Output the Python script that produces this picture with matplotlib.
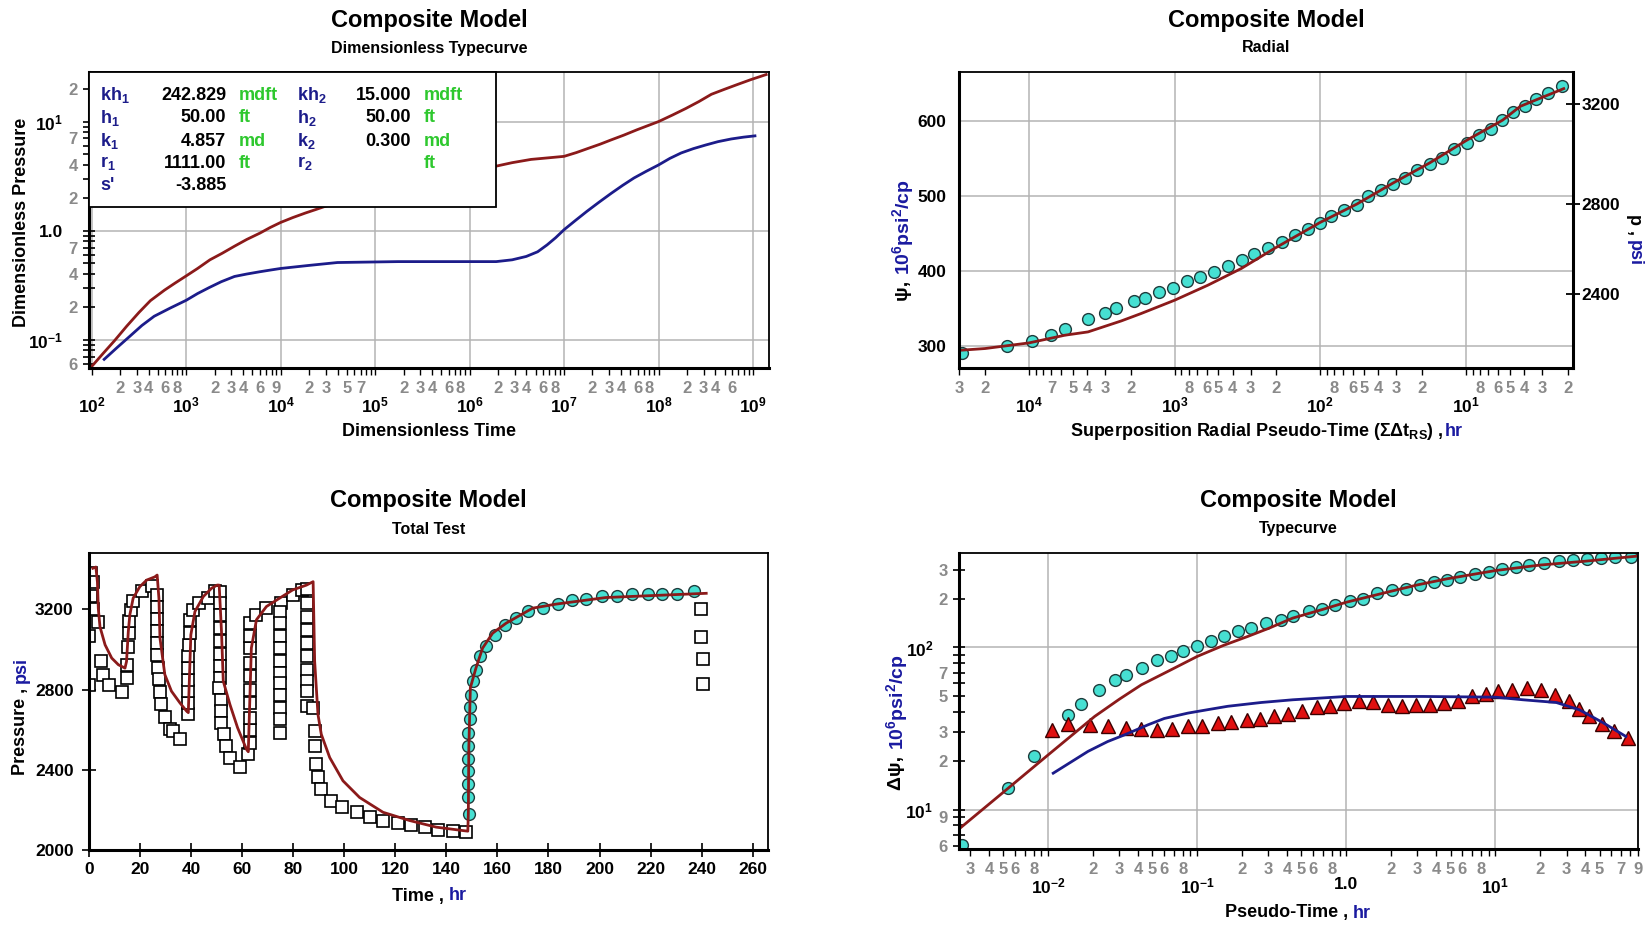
import numpy as np
import matplotlib
matplotlib.use("Agg")
import matplotlib.pyplot as plt
from matplotlib import font_manager
from matplotlib.ticker import FixedLocator, FixedFormatter
from matplotlib.patches import Rectangle

# ---------------- data ----------------
# panel 1: dimensionless typecurve
P1_RED_TD = [100, 132, 174, 234, 316, 417, 589, 759, 1000, 1318, 1780, 2399, 3240, 4365, 6030,
             7762, 1e4, 1.349e4, 1.82e4, 2.344e4, 2.95e4, 1e5, 3.16e5, 1e6, 1.9e6, 2.82e6, 4.47e6,
             6.76e6, 1e7, 1.35e7, 1.82e7, 2.4e7, 3.16e7, 4.27e7, 5.89e7, 7.76e7, 1e8, 1.41e8,
             1.95e8, 2.69e8, 3.63e8, 5.01e8, 6.76e8, 9.55e8, 1.38e9]
P1_RED_PD = [0.057, 0.075, 0.098, 0.133, 0.178, 0.228, 0.285, 0.33, 0.385, 0.45, 0.54, 0.62, 0.72,
             0.83, 0.95, 1.07, 1.19, 1.32, 1.45, 1.56, 1.67, 2.3, 2.9, 3.5, 3.9, 4.2, 4.5,
             4.65, 4.8, 5.2, 5.7, 6.2, 6.8, 7.5, 8.4, 9.2, 10, 11.5,
             13.2, 15.3, 17.8, 19.8, 21.8, 24.3, 27]
P1_BLUE_TD = [135, 186, 251, 339, 457, 676, 1000, 1318, 1740, 2344, 3240, 4365, 6030, 7762, 1e4,
              1.995e4, 3.98e4, 1.74e5, 1.91e6, 2.82e6, 3.98e6, 5.25e6, 6.61e6, 8.13e6, 1e7,
              1.32e7, 1.74e7, 2.34e7, 3.16e7, 4.17e7, 5.5e7, 7.41e7, 1e8, 1.32e8, 1.74e8, 2.34e8,
              3.16e8, 4.27e8, 5.89e8, 7.94e8, 1.05e9]
P1_BLUE_PD = [0.066, 0.085, 0.107, 0.135, 0.164, 0.195, 0.23, 0.265, 0.30, 0.34, 0.38, 0.40,
              0.42, 0.435, 0.45, 0.48, 0.51, 0.52, 0.52, 0.54, 0.58, 0.64, 0.74, 0.86, 1.02,
              1.24, 1.5, 1.82, 2.2, 2.6, 3.04, 3.5, 4.0, 4.6, 5.16, 5.65,
              6.1, 6.55, 6.93, 7.2, 7.4]
LEG_LABELS1 = ["kh$_1$", "h$_1$", "k$_1$", "r$_1$", "s'"]
LEG_VALUES1 = ["242.829", "50.00", "4.857", "1111.00", "-3.885"]
LEG_UNITS1 = ["mdft", "ft", "md", "ft", ""]
LEG_LABELS2 = ["kh$_2$", "h$_2$", "k$_2$", "r$_2$", ""]
LEG_VALUES2 = ["15.000", "50.00", "0.300", "", ""]
LEG_UNITS2 = ["mdft", "ft", "md", "ft", ""]

# panel 2: radial (superposition time, reversed)
P2_DATA_T = [28900, 14200, 9490, 7000, 5660, 3960, 3010, 2510, 1910, 1590, 1270, 1030, 824, 667,
             538, 432, 346, 286, 230, 183, 148, 121, 100, 84.1, 68.5, 56.1, 46.7, 38.4, 31.8,
             26.2, 21.8, 17.7, 14.5, 12.1, 9.89, 8.15, 6.75, 5.61, 4.74, 3.94, 3.32, 2.74, 2.18]
P2_DATA_PSI = [290.1, 300, 306.2, 313.8, 322.7, 336, 343.6, 350.2, 359.1, 364.1, 371.6, 376.9,
               386.3, 391.6, 398.3, 406.3, 414.8, 421.9, 430.3, 438.3, 447.3, 455.3, 464.2, 472.6,
               480.6, 488.2, 499.7, 507.3, 515.4, 524.3, 534, 543, 551, 562.1, 570.5, 580.8,
               588.8, 600.8, 611.9, 620.4, 629.8, 637.3, 646.2]
P2_MODEL_T = [29500, 20000, 10000, 5660, 3930, 2320, 1700, 1000, 592, 349, 207, 100, 56, 31.6,
              17.7, 9.89, 5.6, 4.23, 2.13]
P2_MODEL_PSI = [293.7, 296, 303.5, 313.8, 318.2, 332.9, 342.7, 360.5, 380.5, 402.8, 429.5, 464.5,
                489, 517.1, 544, 574.1, 601, 619.5, 643.1]
P2_P_LABELS = ["3200", "2800", "2400"]
P2_P_AT_PSI = [623.1, 489.6, 368.5]

# panel 3: total test
P3_SQ_T = [0.65, 1.44, 0.65, 1.44, 3.65, 0.13, 4.56, 5.35, 0.13, 7.96, 12.8,
           14.7, 15.0, 15.4, 15.6, 15.8, 16.3, 17.1, 20.6, 24.5,
           26.7, 26.7, 26.7, 26.7, 26.7, 26.7, 27.0, 27.5, 27.8, 28.4, 29.7, 31.7, 33.0, 35.6,
           38.9, 38.9, 38.9, 38.9, 38.9, 38.9, 39.2, 39.4, 39.7, 40.8, 43.2, 46.7, 49.3,
           51.3, 51.3, 51.3, 51.3, 51.3, 51.3, 51.3, 51.3, 51.0, 51.6, 51.6, 51.8, 52.8, 53.5,
           55.4, 59.1, 62.4,
           63.0, 63.0, 63.0, 63.0, 63.0, 63.0, 63.0, 63.0, 63.0, 63.0, 65.6, 69.5, 75.4, 79.9, 83.6,
           74.8, 74.8, 74.8, 74.8, 74.8, 74.8, 74.8, 74.8, 74.8, 74.8, 74.8,
           85.5, 85.5, 85.5, 85.5, 85.5, 85.5, 85.5, 85.5, 85.5, 85.5,
           87.8, 88.4, 88.4, 89.0, 89.6, 90.9, 94.8, 99.3, 104.8, 110.0, 115.2, 121.1, 126.3,
           131.5, 136.8, 142.6, 147.8,
           239.8, 239.8, 240.4, 240.4]
P3_SQ_P = [3383, 3334, 3268, 3201, 3135, 3069, 2944, 2874, 2821, 2821, 2788,
           2858, 2924, 3012, 3080, 3140, 3195, 3244, 3290, 3318,
           3270, 3210, 3150, 3090, 3030, 2970, 2910, 2855, 2790, 2730, 2665, 2605, 2591, 2555,
           2676, 2734, 2792, 2850, 2907, 2965, 3023, 3081, 3147, 3198, 3231, 3256, 3292,
           3288, 3231, 3173, 3107, 3041, 2975, 2917, 2858, 2808, 2750, 2692, 2635, 2577, 2519,
           2461, 2412, 2478,
           2535, 2597, 2659, 2734, 2800, 2866, 2932, 3007, 3069, 3131, 3173, 3206, 3231, 3272, 3297,
           3189, 3131, 3065, 3007, 2941, 2883, 2833, 2775, 2709, 2651, 2585,
           3300, 3231, 3164, 3098, 3032, 2966, 2900, 2842, 2792, 2717,
           2709, 2593, 2519, 2428, 2362, 2304, 2246, 2213, 2188, 2163, 2147, 2134, 2127,
           2114, 2101, 2094, 2089,
           3201, 3064, 2953, 2828]
P3_CIRC_T = [148.8, 148.6, 148.4, 148.4, 148.4, 148.4, 148.6, 149.1, 149.4, 149.8, 150.4, 151.7,
             153.0, 155.6, 158.9, 162.8, 167.3, 171.9, 177.8, 183.7, 189.3, 194.8, 201.0, 206.8,
             212.8, 218.9, 224.5, 230.2, 237.2]
P3_CIRC_P = [2180, 2262, 2328, 2394, 2452, 2519, 2585, 2651, 2712, 2775, 2842, 2900,
             2966, 3016, 3074, 3123, 3156, 3193, 3209, 3226, 3246, 3251, 3267, 3267,
             3275, 3279, 3279, 3279, 3292]
P3_MODEL_T = [1.5, 2.7, 3.3, 3.65, 4.3, 6.3, 8.9, 11.5, 14.1, 14.7, 15.4, 16.0, 17.3, 19.9, 22.6,
              25.8, 26.7, 27.4, 27.8, 29.7, 32.3, 35.6, 38.2, 38.9, 39.3, 39.9, 41.5, 44.8, 48.0,
              50.2, 51.0, 51.9, 52.6, 55.2, 58.2, 61.7, 62.4, 63.6, 65.6, 69.5, 74.7, 79.8, 85.2,
              87.8, 88.4, 89.7, 91.0, 94.3, 99.5, 106.0, 115.2, 125.6, 136.0, 146.4, 148.4,
              148.6, 148.8, 149.4, 151.6, 154.2, 158.1, 163.4, 173.8, 182.9, 202.5, 241.8]
P3_MODEL_P = [3405, 3411, 3336, 3204, 3113, 3023, 2957, 2924, 2907, 2940, 3090, 3173, 3256, 3313,
              3346, 3362, 3371, 3254, 3057, 2875, 2792, 2734, 2693, 2685, 2842, 3073, 3189, 3264,
              3305, 3321, 3321, 3090, 2842, 2726, 2610, 2502, 2490, 3007, 3148, 3214, 3256, 3297,
              3321, 3338, 2941, 2676, 2577, 2461, 2345, 2262, 2188, 2147, 2114, 2097, 2094,
              2180, 2511, 2809, 2908, 3007, 3081, 3131, 3206, 3226, 3259, 3280]

# panel 4: typecurve (log-log)
P4_DPSI_T = [0.00263, 0.0054, 0.00802, 0.0136, 0.0165, 0.0218, 0.028, 0.0335, 0.0426, 0.0537,
             0.0662, 0.0802, 0.1, 0.123, 0.152, 0.187, 0.23, 0.29, 0.365, 0.437, 0.56, 0.689,
             0.845, 1.05, 1.29, 1.6, 2.02, 2.52, 3.12, 3.87, 4.75, 5.83, 7.28, 9.02, 11.0, 13.7,
             16.9, 21.3, 26.6, 33.0, 41.1, 50.9, 63.5, 80.9]
P4_DPSI = [6.08, 13.6, 21.3, 38.5, 44.8, 54.8, 62.7, 68, 74.7, 84, 89.2, 95.5, 101.4, 108.9,
           116.9, 125.5, 131.6, 141.3, 148.2, 156.8, 166.6, 172.5, 183.4, 194, 199.5, 216.4,
           224.4, 229, 241.1, 251.4, 261.1, 269.9, 283.1, 291.1, 305.2, 312.6, 323.2, 331.3,
           338.8, 346.9, 351.6, 355, 360, 360]
P4_DER_T = [0.01064, 0.0136, 0.019, 0.025, 0.0335, 0.0422, 0.0537, 0.0676, 0.0865, 0.107, 0.137,
            0.169, 0.215, 0.265, 0.326, 0.404, 0.506, 0.631, 0.782, 0.959, 1.21, 1.51, 1.89,
            2.38, 2.92, 3.64, 4.52, 5.62, 7.01, 8.71, 10.4, 12.9, 16.3, 20.3, 25.2, 31.0, 36.6,
            42.7, 51.9, 62.7, 78.0]
P4_DER = [30.8, 33.9, 33.4, 32.6, 31.9, 31.6, 30.8, 31.6, 32.6, 33.0, 34.2, 34.7, 35.5, 36.4,
          37.6, 39.0, 40.4, 42.7, 43.7, 45.8, 47.1, 46.4, 44.4, 43.7, 44.0, 44.4, 45.8, 47.0,
          49.9, 51.9, 53.6, 54.8, 56.2, 54.8, 51.2, 47.1, 41.7, 37.9, 33.7, 30.7, 27.7]
P4_MODEL_T = [0.00256, 0.0054, 0.01, 0.0205, 0.03, 0.0422, 0.065, 0.1, 0.15, 0.218, 0.3, 0.437,
              0.7, 1.0, 1.97, 3.0, 4.75, 10, 20, 40, 88]
P4_MODEL_DPSI = [7.7, 13.6, 21.8, 37.6, 48, 58.9, 72, 88.1, 103, 116.9, 131, 151.7,
                 172, 190, 221.4, 243, 265, 297.8, 322, 340, 365]
P4_MODEL_DER_T = [0.0108, 0.0185, 0.025, 0.0327, 0.0468, 0.06, 0.0865, 0.12, 0.16, 0.268, 0.437,
                  1.0, 3.28, 10, 15.3, 25.6, 36.6, 52.4, 75]
P4_MODEL_DER = [16.8, 22.9, 26.3, 29.0, 33.4, 36.5, 39.4, 41.5, 43.4, 45.8, 47.6,
                49.9, 49.9, 49.4, 47.6, 45.8, 41.3, 34.5, 28.3]

# which minor ticks carry a digit label, per decade exponent
P1_X_MINOR = {2: [2, 3, 4, 6, 8], 3: [2, 3, 4, 6, 9], 4: [2, 3, 5, 7], 5: [2, 3, 4, 6, 8],
              6: [2, 3, 4, 6, 8], 7: [2, 3, 4, 6, 8], 8: [2, 3, 4, 6]}
P1_Y_MINOR = {-2: [6], -1: [2, 4, 7], 0: [2, 4, 7], 1: [2]}
P2_X_MINOR = {0: [2, 3, 4, 5, 6, 8], 1: [2, 3, 4, 5, 6, 8], 2: [2, 3, 4, 5, 6, 8],
              3: [2, 3, 4, 5, 7], 4: [2, 3]}
P4_X_MINOR = {-3: [3, 4, 5, 6, 8], -2: [2, 3, 4, 5, 6, 8], -1: [2, 3, 4, 5, 6, 8],
              0: [2, 3, 4, 5, 6, 8], 1: [2, 3, 4, 5, 7, 9]}
P4_Y_MINOR = {0: [6, 9], 1: [2, 3, 5, 7], 2: [2, 3]}

# ---------------- style ----------------
names = {f.name for f in font_manager.fontManager.ttflist}
FONT = "Liberation Sans" if "Liberation Sans" in names else "DejaVu Sans"
plt.rcParams["font.family"] = [FONT, "DejaVu Sans"]
plt.rcParams["font.weight"] = "bold"
plt.rcParams["mathtext.fontset"] = "custom"
plt.rcParams["mathtext.rm"] = FONT + ":bold"
plt.rcParams["mathtext.bf"] = FONT + ":bold"
plt.rcParams["mathtext.it"] = FONT + ":bold"
plt.rcParams["mathtext.default"] = "bf"

RED, NAVY, BLUE = "#8b1a1a", "#1c1c8a", "#1a1aa0"
CYAN, CYAN_EDGE = "#46e0d2", "#1e3c3c"
TRI, TRI_EDGE = "#e01010", "#3a0000"
GREEN, GRID, GREY = "#2ec82e", "#b4b4b4", "#8a8a8a"

W, H = 1648, 926
fig = plt.figure(figsize=(W / 100, H / 100), dpi=100, facecolor="white")


def px_axes(l, t, r, b):
    return fig.add_axes([l / W, 1 - b / H, (r - l) / W, (b - t) / H])


def dec(e):
    return "1.0" if e == 0 else r"$10^{%d}$" % e


def log_ticks(axis, lo, hi, spec):
    lo, hi = min(lo, hi), max(lo, hi)
    e0, e1 = int(np.floor(np.log10(lo))), int(np.ceil(np.log10(hi)))
    maj = [e for e in range(e0, e1 + 1) if lo <= 10.0 ** e <= hi]
    axis.set_major_locator(FixedLocator([10.0 ** e for e in maj]))
    axis.set_major_formatter(FixedFormatter([dec(e) for e in maj]))
    mins, labs = [], []
    for e in range(e0, e1):
        for d in range(2, 10):
            v = d * 10.0 ** e
            if lo <= v <= hi:
                mins.append(v)
                labs.append(str(d) if d in spec.get(e, ()) else "")
    axis.set_minor_locator(FixedLocator(mins))
    axis.set_minor_formatter(FixedFormatter(labs))


def frame(ax, thick=("left", "bottom")):
    for s in ax.spines:
        ax.spines[s].set_linewidth(2.2 if s in thick else 1.3)
        ax.spines[s].set_color("black")


def log_style(ax):
    ax.tick_params(axis="x", which="minor", direction="out", length=5, width=1, pad=4.5,
                   labelsize=12, labelcolor=GREY)
    ax.tick_params(axis="x", which="major", direction="out", length=5, width=1, pad=15,
                   labelsize=12.5)
    ax.tick_params(axis="y", which="minor", direction="inout", length=9, width=1.2, pad=3.5,
                   labelsize=12, labelcolor=GREY)
    ax.tick_params(axis="y", which="major", direction="inout", length=9, width=1.2, pad=14,
                   labelsize=12.5)
    ax.grid(True, which="major", color=GRID, lw=1.1)
    ax.set_axisbelow(True)


def title(ax, sub):
    bb = ax.get_position()
    xc = (bb.x0 + bb.x1) / 2
    top = bb.y1 * H
    fig.text(xc, (top + 52) / H, "Composite Model", ha="center", va="center", fontsize=17,
             fontweight="bold")
    fig.text(xc, (top + 24) / H, sub, ha="center", va="center", fontsize=11.5, fontweight="bold")


def color_label(x, y, parts, rotation=0, size=13):
    # x, y in pixels from the top-left corner
    r = fig.canvas.get_renderer()
    ha, va = {0: ("left", "center"), 90: ("center", "bottom"), 270: ("center", "top")}[rotation]
    ts = [fig.text(0, 0, s, color=c, fontsize=size, fontweight="bold", rotation=rotation,
                   ha=ha, va=va) for s, c in parts]
    ext = [t.get_window_extent(r) for t in ts]
    yb = H - y
    if rotation == 0:
        cur = x - sum(e.width for e in ext) / 2
        for t, e in zip(ts, ext):
            t.set_position((cur / W, yb / H))
            cur += e.width
    elif rotation == 90:
        cur = yb - sum(e.height for e in ext) / 2
        for t, e in zip(ts, ext):
            t.set_position((x / W, cur / H))
            cur += e.height
    else:
        cur = yb + sum(e.height for e in ext) / 2
        for t, e in zip(ts, ext):
            t.set_position((x / W, cur / H))
            cur -= e.height


# ---------------- panel 1 ----------------
ax1 = px_axes(89, 72, 769, 368)
ax1.set_xscale("log")
ax1.set_yscale("log")
ax1.set_xlim(10 ** 1.97, 10 ** 9.17)
ax1.set_ylim(0.055, 28.5)
ax1.plot(P1_RED_TD, P1_RED_PD, color=RED, lw=2)
ax1.plot(P1_BLUE_TD, P1_BLUE_PD, color=NAVY, lw=2)
log_ticks(ax1.xaxis, *ax1.get_xlim(), P1_X_MINOR)
log_ticks(ax1.yaxis, *ax1.get_ylim(), P1_Y_MINOR)
log_style(ax1)
frame(ax1)
ax1.add_patch(Rectangle((0, 0.545), 0.599, 0.455, transform=ax1.transAxes, facecolor="white",
                        edgecolor="black", lw=1.3, zorder=5, clip_on=False))
rows_y = [95, 118, 141, 163.5, 186]
for i, yy in enumerate(rows_y):
    ya = 1 - (yy - 72) / 296
    kw = dict(transform=ax1.transAxes, va="center", fontsize=13, fontweight="bold", zorder=6)
    ax1.text((100 - 89) / 680, ya, LEG_LABELS1[i], color=NAVY, ha="left", **kw)
    ax1.text((226 - 89) / 680, ya, LEG_VALUES1[i], color="black", ha="right", **kw)
    ax1.text((239 - 89) / 680, ya, LEG_UNITS1[i], color=GREEN, ha="left", **kw)
    ax1.text((297 - 89) / 680, ya, LEG_LABELS2[i], color=NAVY, ha="left", **kw)
    ax1.text((411 - 89) / 680, ya, LEG_VALUES2[i], color="black", ha="right", **kw)
    ax1.text((424 - 89) / 680, ya, LEG_UNITS2[i], color=GREEN, ha="left", **kw)
title(ax1, "Dimensionless Typecurve")
fig.text(429 / W, 1 - 431 / H, "Dimensionless Time", ha="center", va="center", fontsize=13)
fig.text(22 / W, 1 - 222 / H, "Dimensionless Pressure", ha="center", va="center", fontsize=13,
         rotation=90)

# ---------------- panel 2 ----------------
ax2 = px_axes(959, 72, 1573, 368)
ax2.set_xscale("log")
ax2.set_xlim(3.02e4, 1.84)
ax2.set_ylim(270, 665.3)
ax2.plot(P2_DATA_T, P2_DATA_PSI, "o", ms=8.5, mfc=CYAN, mec=CYAN_EDGE, mew=1)
ax2.plot(P2_MODEL_T, P2_MODEL_PSI, color=RED, lw=2)
log_ticks(ax2.xaxis, 1.84, 3.02e4, P2_X_MINOR)
ax2.set_yticks([300, 400, 500, 600])
log_style(ax2)
ax2.tick_params(axis="y", which="major", length=0, pad=9)
frame(ax2, thick=("left", "bottom", "right"))
tw = ax2.twinx()
tw.set_ylim(ax2.get_ylim())
tw.set_yticks(P2_P_AT_PSI)
tw.set_yticklabels(P2_P_LABELS)
tw.tick_params(axis="y", direction="inout", length=10, width=1.3, pad=1, labelsize=12.5)
for s in tw.spines.values():
    s.set_visible(False)
title(ax2, "Radial")

# ---------------- panel 3 ----------------
ax3 = px_axes(89, 553, 768, 850)
ax3.set_xlim(0, 266)
ax3.set_ylim(2000, 3481)
ax3.plot(P3_SQ_T, P3_SQ_P, "s", ms=8.5, mfc="white", mec="black", mew=1.2)
ax3.plot(P3_CIRC_T, P3_CIRC_P, "o", ms=8.5, mfc=CYAN, mec=CYAN_EDGE, mew=1)
ax3.plot(P3_MODEL_T, P3_MODEL_P, color=RED, lw=2)
ax3.set_xticks(range(0, 261, 20))
ax3.set_yticks([2000, 2400, 2800, 3200])
ax3.tick_params(direction="inout", length=10, width=1.2, labelsize=12.5)
ax3.tick_params(axis="x", pad=4)
ax3.tick_params(axis="y", pad=6)
frame(ax3)
title(ax3, "Total Test")

# ---------------- panel 4 ----------------
ax4 = px_axes(959, 553, 1638, 849)
ax4.set_xscale("log")
ax4.set_yscale("log")
ax4.set_xlim(2.52e-3, 90.5)
ax4.set_ylim(5.73, 382)
ax4.plot(P4_DPSI_T, P4_DPSI, "o", ms=8.5, mfc=CYAN, mec=CYAN_EDGE, mew=1)
ax4.plot(P4_DER_T, P4_DER, "^", ms=10, mfc=TRI, mec=TRI_EDGE, mew=1)
ax4.plot(P4_MODEL_T, P4_MODEL_DPSI, color=RED, lw=2)
ax4.plot(P4_MODEL_DER_T, P4_MODEL_DER, color=NAVY, lw=2)
log_ticks(ax4.xaxis, *ax4.get_xlim(), P4_X_MINOR)
log_ticks(ax4.yaxis, *ax4.get_ylim(), P4_Y_MINOR)
log_style(ax4)
frame(ax4)
title(ax4, "Typecurve")

# ---------------- two-colour axis labels ----------------
color_label(1266, 431, [("Superposition Radial Pseudo-Time (ΣΔt$_{RS}$) , ", "black"), ("hr", BLUE)])
color_label(903, 240, [("ψ, ", "black"), ("10$^6$psi$^2$/cp", BLUE)], rotation=90, size=14)
color_label(1634, 240, [("p , ", "black"), ("psi", BLUE)], rotation=270)
color_label(429, 896, [("Time , ", "black"), ("hr", BLUE)])
color_label(21, 716, [("Pressure , ", "black"), ("psi", BLUE)], rotation=90)
color_label(1298, 913, [("Pseudo-Time , ", "black"), ("hr", BLUE)])
color_label(897, 722, [("Δψ, ", "black"), ("10$^6$psi$^2$/cp", BLUE)], rotation=90, size=14)

fig.savefig("out.png", dpi=100, facecolor="white")
